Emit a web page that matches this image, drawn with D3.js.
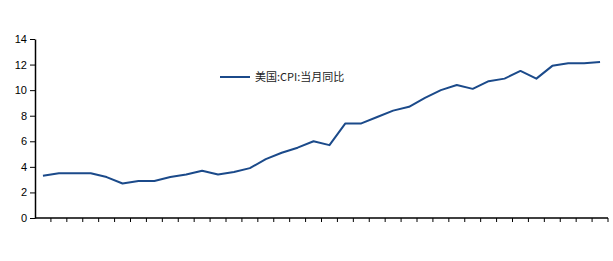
<!DOCTYPE html>
<html><head><meta charset="utf-8">
<script src="https://cdn.jsdelivr.net/npm/d3@7"></script>
<style>html,body{margin:0;padding:0;background:#fff;}svg{display:block;}</style>
</head><body>
<svg id="c" width="613" height="261"></svg>
<script>
const seriesName = "美国:CPI:当月同比";
const periods = d3.range(1, 37).map(i => "P" + i);
const cpi = [3.3,3.5,3.5,3.5,3.2,2.7,2.9,2.9,3.2,3.4,3.7,3.4,3.6,3.9,4.6,5.1,5.5,6.0,5.7,7.4,7.4,7.9,8.4,8.7,9.4,10.0,10.4,10.1,10.7,10.9,11.5,10.9,11.9,12.1,12.1,12.2];
const yTicks = [0,2,4,6,8,10,12,14];

const svg = d3.select("#c");
const m = {left:35, right:5, top:39, bottom:43};
const W = 613, H = 261;
const x = d3.scaleBand().domain(periods).range([m.left, W - m.right]);
const y = d3.scaleLinear().domain([0,14]).range([H - m.bottom, m.top]);

// y axis
const ya = svg.append("g").attr("transform", `translate(${m.left},0)`)
  .call(d3.axisLeft(y).tickValues(yTicks).tickSize(5).tickSizeOuter(0));
ya.select(".domain").attr("stroke","#000").attr("stroke-width",1.5);
ya.selectAll(".tick line").attr("stroke","#000");
ya.selectAll("text").attr("font-family","Liberation Sans, Arial, sans-serif").attr("font-size",11).attr("fill","#000").attr("x",-8);

// x axis with ticks at band boundaries
const xa = svg.append("g").attr("transform", `translate(0,${y(0)})`);
xa.append("line").attr("x1", m.left).attr("x2", W - m.right).attr("stroke","#000").attr("stroke-width",1.5);
const bounds = periods.map(p => x(p)).concat([x(periods[periods.length-1]) + x.bandwidth()]);
xa.selectAll("line.t").data(bounds.slice(1)).join("line").attr("class","t")
  .attr("x1", d => d).attr("x2", d => d).attr("y1", 0).attr("y2", 4).attr("stroke","#000");

// line
const line = d3.line().x((d,i) => x(periods[i]) + x.bandwidth()/2).y(d => y(d));
svg.append("path").datum(cpi).attr("d", line).attr("fill","none")
  .attr("stroke","#1B4A8A").attr("stroke-width",2).attr("stroke-linejoin","round");

// legend
const lg = svg.append("g").attr("transform","translate(220,77)");
lg.append("line").attr("x1",0).attr("x2",30).attr("stroke","#1B4A8A").attr("stroke-width",2);
lg.append("text").attr("x",35).attr("y",4).text(seriesName)
  .attr("font-family","Noto Sans CJK SC, sans-serif").attr("font-size",11).attr("fill","#222");
</script>
</body></html>
